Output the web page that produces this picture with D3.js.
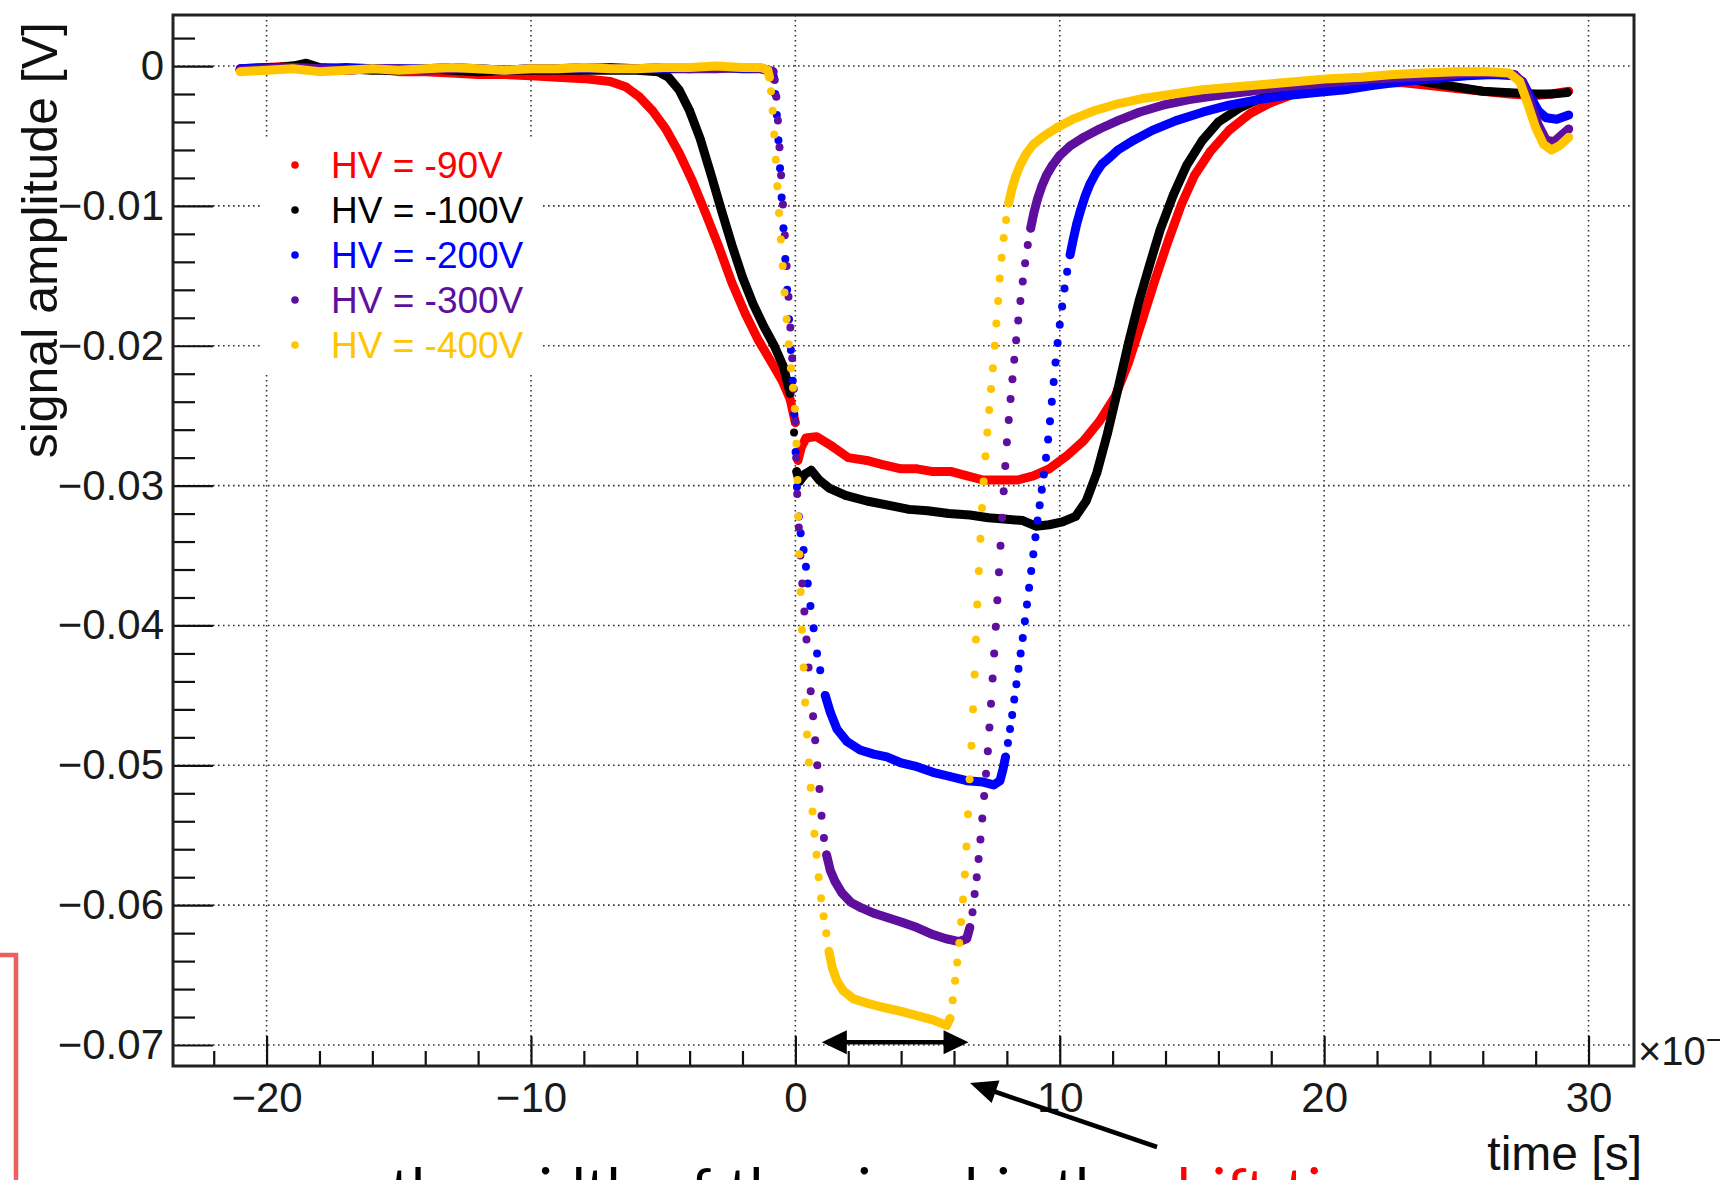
<!DOCTYPE html>
<html>
<head>
<meta charset="utf-8">
<script src="https://cdn.jsdelivr.net/npm/d3@7"></script>
<style>
  body { margin: 0; background: #fff; overflow: hidden; }
  text { font-family: "Liberation Sans", Arial, Helvetica, sans-serif; }
</style>
</head>
<body>
<div id="chart"></div>
<script>
// ---- data (time in units of 1e-9 s, amplitude in V) ----
var seriesNames  = ["HV = -90V", "HV = -100V", "HV = -200V", "HV = -300V", "HV = -400V"];
var seriesColors = ["#ff0000", "#000000", "#0000ff", "#5e0f9e", "#ffc600"];

var hv90 = [[-21.0,-0.0002],[-20.0,-0.0001],[-19.0,0.0000],[-18.0,-0.0002],[-17.0,-0.0003],[-16.0,-0.0002],[-15.0,-0.0004],[-14.0,-0.0004],[-13.0,-0.0005],[-12.0,-0.0006],[-11.0,-0.0006],[-10.0,-0.0007],[-9.0,-0.0008],[-8.0,-0.0009],[-7.0,-0.0011],[-6.4,-0.0015],[-5.9,-0.0022],[-5.4,-0.0032],[-4.9,-0.0045],[-4.4,-0.0062],[-3.9,-0.0082],[-3.4,-0.0105],[-2.9,-0.0129],[-2.4,-0.0155],[-1.9,-0.0177],[-1.4,-0.0196],[-0.9,-0.0212],[-0.5,-0.0225],[-0.2,-0.0238],[0.0,-0.0255],[0.1,-0.0282],[0.22,-0.0273],[0.4,-0.0266],[0.8,-0.0265],[1.4,-0.0272],[2.0,-0.0280],[2.7,-0.0282],[3.3,-0.0285],[4.0,-0.0288],[4.6,-0.0288],[5.2,-0.0290],[5.9,-0.0290],[6.5,-0.0293],[7.1,-0.0296],[7.7,-0.0296],[8.4,-0.0296],[9.0,-0.0293],[9.6,-0.0288],[10.25,-0.0279],[10.9,-0.0268],[11.5,-0.0254],[12.1,-0.0236],[12.6,-0.0212],[13.1,-0.0183],[13.6,-0.0153],[14.1,-0.0125],[14.6,-0.0099],[15.1,-0.0078],[15.7,-0.0061],[16.4,-0.0046],[17.2,-0.0034],[18.0,-0.0026],[19.0,-0.0019],[20.0,-0.0016],[21.0,-0.0014],[22.0,-0.0012],[23.0,-0.0012],[24.0,-0.0014],[25.0,-0.0016],[26.0,-0.0018],[27.0,-0.0020],[28.0,-0.0021],[28.6,-0.0020],[29.25,-0.0018]];

var hv100 = [[-21.0,-0.0003],[-20.0,-0.0002],[-19.0,0.0000],[-18.5,0.0002],[-18.0,-0.0001],[-17.0,-0.0002],[-16.0,-0.0003],[-15.0,-0.0003],[-14.0,-0.0002],[-13.0,-0.0003],[-12.0,-0.0004],[-11.0,-0.0003],[-10.0,-0.0003],[-9.0,-0.0003],[-8.0,-0.0003],[-7.0,-0.0003],[-6.0,-0.0003],[-5.2,-0.0004],[-4.8,-0.0008],[-4.4,-0.0017],[-4.0,-0.0032],[-3.6,-0.0052],[-3.2,-0.0077],[-2.8,-0.0103],[-2.4,-0.0128],[-2.0,-0.0151],[-1.6,-0.0170],[-1.2,-0.0186],[-0.8,-0.0200],[-0.45,-0.0215],[-0.2,-0.0234],[-0.05,-0.0262],[0.05,-0.0290],[0.15,-0.0297],[0.35,-0.0292],[0.6,-0.0289],[0.9,-0.0296],[1.3,-0.0302],[1.9,-0.0307],[2.7,-0.0311],[3.5,-0.0314],[4.3,-0.0317],[5.0,-0.0318],[5.8,-0.0320],[6.6,-0.0321],[7.3,-0.0323],[8.0,-0.0324],[8.6,-0.0325],[9.1,-0.0329],[9.6,-0.0328],[10.1,-0.0326],[10.6,-0.0322],[11.0,-0.0311],[11.4,-0.0291],[11.8,-0.0263],[12.2,-0.0231],[12.6,-0.0198],[13.0,-0.0168],[13.4,-0.0142],[13.8,-0.0117],[14.3,-0.0092],[14.8,-0.0071],[15.4,-0.0053],[16.0,-0.0040],[16.8,-0.0030],[17.6,-0.0023],[18.6,-0.0018],[19.6,-0.0015],[20.6,-0.0013],[21.6,-0.0010],[22.4,-0.0008],[23.2,-0.0009],[24.0,-0.0012],[25.0,-0.0015],[26.0,-0.0018],[27.0,-0.0019],[28.0,-0.0020],[28.6,-0.0020],[29.2,-0.0019]];

var hv200 = [[-21.0,-0.0002],[-20.0,-0.0001],[-19.0,-0.0001],[-18.0,-0.0002],[-17.0,-0.0001],[-16.0,-0.0002],[-15.0,-0.0002],[-14.0,-0.0002],[-13.0,-0.0001],[-12.0,-0.0002],[-11.0,-0.0003],[-10.0,-0.0002],[-9.0,-0.0002],[-8.0,-0.0002],[-7.0,-0.0001],[-6.0,-0.0002],[-5.0,-0.0002],[-4.0,-0.0002],[-3.0,-0.0001],[-2.0,-0.0002],[-1.3,-0.0002],[-0.88,-0.0004],[-0.82,-0.0009],[-0.76,-0.0020],[-0.70,-0.0035],[-0.64,-0.0053],[-0.58,-0.0073],[-0.52,-0.0094],[-0.45,-0.0116],[-0.38,-0.0138],[-0.31,-0.0160],[-0.24,-0.0181],[-0.17,-0.0203],[-0.10,-0.0225],[-0.04,-0.0249],[0.01,-0.0276],[0.06,-0.0301],[0.13,-0.0322],[0.20,-0.0334],[0.31,-0.0346],[0.40,-0.0358],[0.47,-0.0370],[0.57,-0.0386],[0.69,-0.0402],[0.82,-0.0420],[0.94,-0.0432],[1.13,-0.0450],[1.32,-0.0462],[1.57,-0.0474],[1.95,-0.0483],[2.45,-0.0489],[2.96,-0.0492],[3.46,-0.0494],[3.96,-0.0498],[4.6,-0.0501],[5.2,-0.0505],[5.85,-0.0508],[6.48,-0.0511],[7.1,-0.0512],[7.5,-0.0514],[7.74,-0.0511],[7.85,-0.0503],[7.95,-0.0494],[8.04,-0.0484],[8.12,-0.0474],[8.20,-0.0464],[8.28,-0.0453],[8.36,-0.0442],[8.44,-0.0431],[8.52,-0.0420],[8.60,-0.0409],[8.68,-0.0397],[8.76,-0.0385],[8.84,-0.0373],[8.92,-0.0361],[9.00,-0.0349],[9.08,-0.0337],[9.16,-0.0325],[9.24,-0.0314],[9.32,-0.0303],[9.40,-0.0292],[9.48,-0.0280],[9.56,-0.0267],[9.63,-0.0254],[9.70,-0.0240],[9.77,-0.0226],[9.84,-0.0212],[9.92,-0.0198],[10.00,-0.0185],[10.09,-0.0172],[10.18,-0.0159],[10.28,-0.0147],[10.39,-0.0135],[10.51,-0.0124],[10.64,-0.0113],[10.79,-0.0103],[10.96,-0.0093],[11.15,-0.0084],[11.38,-0.0076],[11.6,-0.0070],[11.85,-0.0066],[12.2,-0.0060],[12.8,-0.0053],[13.5,-0.0046],[14.4,-0.0039],[15.4,-0.0033],[16.4,-0.0028],[17.5,-0.0024],[18.6,-0.0021],[19.7,-0.0019],[20.8,-0.0017],[21.8,-0.0014],[23.0,-0.0011],[24.2,-0.0009],[25.4,-0.0007],[26.4,-0.0006],[27.2,-0.0007],[27.5,-0.0011],[27.8,-0.0022],[28.1,-0.0032],[28.4,-0.0037],[28.8,-0.0038],[29.25,-0.0035]];

var hv300 = [[-21.0,-0.0003],[-20.0,-0.0002],[-19.0,-0.0001],[-18.0,-0.0002],[-17.0,-0.0003],[-16.0,-0.0002],[-15.0,-0.0002],[-14.0,-0.0003],[-13.0,-0.0002],[-12.0,-0.0002],[-11.0,-0.0003],[-10.0,-0.0002],[-9.0,-0.0002],[-8.0,-0.0001],[-7.0,-0.0002],[-6.0,-0.0002],[-5.0,-0.0001],[-4.0,-0.0002],[-3.0,-0.0002],[-2.0,-0.0001],[-1.2,-0.0002],[-0.84,-0.0004],[-0.78,-0.0010],[-0.72,-0.0022],[-0.66,-0.0039],[-0.60,-0.0058],[-0.54,-0.0078],[-0.47,-0.0099],[-0.40,-0.0121],[-0.33,-0.0143],[-0.26,-0.0165],[-0.19,-0.0187],[-0.12,-0.0209],[-0.06,-0.0231],[-0.01,-0.0254],[0.03,-0.0280],[0.07,-0.0306],[0.13,-0.0330],[0.19,-0.0350],[0.26,-0.0370],[0.34,-0.0390],[0.42,-0.0410],[0.50,-0.0430],[0.58,-0.0447],[0.67,-0.0465],[0.75,-0.0482],[0.83,-0.0500],[0.91,-0.0517],[0.99,-0.0536],[1.08,-0.0552],[1.18,-0.0564],[1.32,-0.0575],[1.5,-0.0583],[1.75,-0.0591],[2.1,-0.0598],[2.5,-0.0602],[3.0,-0.0606],[3.5,-0.0609],[4.0,-0.0612],[4.6,-0.0616],[5.2,-0.0621],[5.7,-0.0624],[6.2,-0.0626],[6.48,-0.0624],[6.60,-0.0616],[6.70,-0.0605],[6.78,-0.0592],[6.86,-0.0580],[6.93,-0.0567],[7.00,-0.0553],[7.07,-0.0538],[7.14,-0.0522],[7.21,-0.0506],[7.28,-0.0490],[7.34,-0.0473],[7.40,-0.0456],[7.46,-0.0438],[7.52,-0.0420],[7.58,-0.0401],[7.64,-0.0382],[7.70,-0.0362],[7.76,-0.0343],[7.82,-0.0323],[7.88,-0.0304],[7.94,-0.0286],[8.00,-0.0269],[8.07,-0.0253],[8.14,-0.0238],[8.21,-0.0224],[8.28,-0.0210],[8.35,-0.0196],[8.43,-0.0182],[8.51,-0.0168],[8.60,-0.0154],[8.69,-0.0141],[8.79,-0.0128],[8.90,-0.0116],[9.02,-0.0105],[9.16,-0.0095],[9.32,-0.0086],[9.50,-0.0078],[9.72,-0.0071],[10.0,-0.0064],[10.4,-0.0057],[10.9,-0.0051],[11.5,-0.0045],[12.2,-0.0039],[13.0,-0.0033],[13.9,-0.0028],[14.9,-0.0024],[16.0,-0.0021],[17.2,-0.0018],[18.4,-0.0015],[19.6,-0.0013],[20.8,-0.0011],[22.0,-0.0009],[23.2,-0.0008],[24.4,-0.0007],[25.4,-0.0005],[26.4,-0.0005],[27.2,-0.0006],[27.5,-0.0012],[27.8,-0.0026],[28.1,-0.0042],[28.4,-0.0053],[28.7,-0.0054],[29.0,-0.0049],[29.25,-0.0045]];

var hv400 = [[-21.0,-0.0004],[-20.0,-0.0003],[-19.0,-0.0002],[-18.0,-0.0004],[-17.0,-0.0003],[-16.0,-0.0002],[-15.0,-0.0003],[-14.0,-0.0002],[-13.0,-0.0001],[-12.0,-0.0002],[-11.0,-0.0003],[-10.0,-0.0002],[-9.0,-0.0002],[-8.0,-0.0001],[-7.0,-0.0002],[-6.0,-0.0002],[-5.0,-0.0001],[-4.0,-0.0001],[-3.0,0.0000],[-2.0,-0.0001],[-1.3,-0.0001],[-1.04,-0.0003],[-0.98,-0.0008],[-0.92,-0.0018],[-0.86,-0.0032],[-0.80,-0.0049],[-0.74,-0.0067],[-0.68,-0.0086],[-0.62,-0.0105],[-0.55,-0.0124],[-0.48,-0.0143],[-0.41,-0.0162],[-0.33,-0.0181],[-0.25,-0.0199],[-0.17,-0.0216],[-0.09,-0.0230],[-0.02,-0.0245],[0.04,-0.0270],[0.08,-0.0296],[0.11,-0.0322],[0.15,-0.0349],[0.20,-0.0376],[0.25,-0.0403],[0.31,-0.0430],[0.37,-0.0455],[0.44,-0.0478],[0.51,-0.0498],[0.58,-0.0516],[0.65,-0.0533],[0.72,-0.0549],[0.80,-0.0564],[0.88,-0.0580],[0.97,-0.0595],[1.07,-0.0608],[1.17,-0.0620],[1.27,-0.0633],[1.40,-0.0645],[1.57,-0.0654],[1.8,-0.0661],[2.2,-0.0667],[2.7,-0.0670],[3.3,-0.0673],[4.0,-0.0676],[4.6,-0.0679],[5.2,-0.0682],[5.72,-0.0686],[5.85,-0.0681],[5.95,-0.0668],[6.04,-0.0654],[6.12,-0.0641],[6.20,-0.0627],[6.27,-0.0612],[6.34,-0.0596],[6.41,-0.0578],[6.47,-0.0558],[6.53,-0.0535],[6.59,-0.0510],[6.66,-0.0486],[6.72,-0.0460],[6.78,-0.0435],[6.83,-0.0410],[6.88,-0.0385],[6.94,-0.0361],[7.00,-0.0338],[7.06,-0.0316],[7.12,-0.0297],[7.19,-0.0279],[7.26,-0.0262],[7.33,-0.0246],[7.40,-0.0231],[7.47,-0.0216],[7.54,-0.0200],[7.60,-0.0184],[7.67,-0.0168],[7.73,-0.0152],[7.80,-0.0137],[7.88,-0.0123],[7.97,-0.0110],[8.07,-0.0098],[8.19,-0.0088],[8.33,-0.0079],[8.50,-0.0071],[8.72,-0.0063],[9.0,-0.0056],[9.4,-0.0050],[9.9,-0.0044],[10.5,-0.0038],[11.3,-0.0032],[12.2,-0.0027],[13.2,-0.0023],[14.3,-0.0020],[15.4,-0.0017],[16.6,-0.0015],[17.8,-0.0013],[19.0,-0.0011],[20.2,-0.0009],[21.4,-0.0008],[22.6,-0.0006],[23.8,-0.0005],[25.0,-0.0004],[26.2,-0.0004],[27.0,-0.0005],[27.4,-0.0011],[27.7,-0.0027],[28.0,-0.0044],[28.3,-0.0056],[28.6,-0.0060],[28.9,-0.0057],[29.25,-0.0051]];

var allSeries = [hv90, hv100, hv200, hv300, hv400];

var xTicks = [-20, -10, 0, 10, 20, 30];
var yTicks = [0, -0.01, -0.02, -0.03, -0.04, -0.05, -0.06, -0.07];

// ---- layout ----
var width = 1720, height = 1180;
var frame = {left: 173, right: 1634, top: 15, bottom: 1066};
var sampleStep = 0.063;   // scope sampling interval, in the x units
var dotR = 4.0;           // marker radius

var svg = d3.select("#chart").append("svg")
    .attr("width", width)
    .attr("height", height);

var x = d3.scaleLinear().domain([-23.54, 31.72]).range([frame.left, frame.right]);
var y = d3.scaleLinear().domain([-0.0715, 0.00365]).range([frame.bottom, frame.top]);

// grid (dotted, ROOT style)
svg.append("g").selectAll("line")
    .data(xTicks).enter().append("line")
    .attr("x1", function(d){ return x(d); }).attr("x2", function(d){ return x(d); })
    .attr("y1", frame.top).attr("y2", frame.bottom)
    .style("stroke", "#333").style("stroke-width", 1.6).style("stroke-dasharray", "1.6,3.4");
svg.append("g").selectAll("line")
    .data(yTicks).enter().append("line")
    .attr("x1", frame.left).attr("x2", frame.right)
    .attr("y1", function(d){ return y(d); }).attr("y2", function(d){ return y(d); })
    .style("stroke", "#333").style("stroke-width", 1.6).style("stroke-dasharray", "1.6,3.4");

// axes: ticks point into the frame
var yMinor = d3.range(-0.07, 0.0021, 0.002).filter(function(v){ return Math.abs(Math.round(v*100) - v*100) > 1e-6; });
var xMinor = d3.range(-22, 31, 2).filter(function(v){ return v % 10 !== 0; });

svg.append("g").attr("transform", "translate(" + frame.left + ",0)")
    .call(d3.axisLeft(y).tickValues(yTicks).tickSize(-40).tickPadding(9).tickFormat(d3.format(".2~f")));
svg.append("g").attr("transform", "translate(" + frame.left + ",0)")
    .call(d3.axisLeft(y).tickValues(yMinor).tickSize(-22).tickFormat(""));
svg.append("g").attr("transform", "translate(0," + frame.bottom + ")")
    .call(d3.axisBottom(x).tickValues(xTicks).tickSize(-30).tickPadding(16).tickFormat(d3.format("d")));
svg.append("g").attr("transform", "translate(0," + frame.bottom + ")")
    .call(d3.axisBottom(x).tickValues(xMinor).tickSize(-15).tickFormat(""));

svg.selectAll(".domain").remove();
svg.selectAll(".tick line").style("stroke", "#111").style("stroke-width", 2.2);
svg.selectAll(".tick text").style("font-size", "42px").style("fill", "#1a1a1a")
    .style("font-family", "'Liberation Sans', Arial, sans-serif");

// frame
svg.append("rect")
    .attr("x", frame.left).attr("y", frame.top)
    .attr("width", frame.right - frame.left).attr("height", frame.bottom - frame.top)
    .style("fill", "none").style("stroke", "#222").style("stroke-width", 3);

// legend box: white, no border, hides the grid behind it
var legendX = 295, legendY = 165, legendStep = 45;
svg.append("rect")
    .attr("x", 262).attr("y", 140).attr("width", 280).attr("height", 232)
    .style("fill", "#fff");

// series: dots join into a thick trace where neighbouring samples overlap
function runs(pts) {
  var out = [], cur = [pts[0]];
  for (var i = 1; i < pts.length; i++) {
    var a = pts[i-1], b = pts[i];
    var n = Math.max(1, (b[0] - a[0]) / sampleStep);
    var dx = (x(b[0]) - x(a[0])) / n, dy = (y(b[1]) - y(a[1])) / n;
    if (Math.sqrt(dx*dx + dy*dy) < 8.5) cur.push(b);
    else { out.push(cur); cur = [b]; }
  }
  out.push(cur);
  return out;
}

var line = d3.line().x(function(d){ return x(d[0]); }).y(function(d){ return y(d[1]); });

allSeries.forEach(function(pts, k) {
  var g = svg.append("g");
  g.selectAll("path")
    .data(runs(pts).filter(function(r){ return r.length > 1; }))
    .enter().append("path")
    .attr("d", line)
    .style("fill", "none")
    .style("stroke", seriesColors[k])
    .style("stroke-width", 9)
    .style("stroke-linejoin", "round")
    .style("stroke-linecap", "round");
  g.selectAll("circle")
    .data(pts).enter().append("circle")
    .attr("cx", function(d){ return x(d[0]); })
    .attr("cy", function(d){ return y(d[1]); })
    .attr("r", dotR)
    .style("fill", seriesColors[k]);
});

// legend entries
var leg = svg.append("g").selectAll("g")
    .data(seriesNames).enter().append("g")
    .attr("transform", function(d, i){ return "translate(" + legendX + "," + (legendY + i*legendStep) + ")"; });
leg.append("circle").attr("r", 3.8).style("fill", function(d, i){ return seriesColors[i]; });
leg.append("text")
    .attr("x", 36).attr("y", 13)
    .text(function(d){ return d; })
    .style("font-size", "37px")
    .style("fill", function(d, i){ return seriesColors[i]; });

// axis titles
svg.append("text")
    .attr("transform", "translate(57,22) rotate(-90)")
    .attr("text-anchor", "end")
    .text("signal amplitude [V]")
    .style("font-size", "50px").style("fill", "#111");
svg.append("text")
    .attr("x", 1642).attr("y", 1170)
    .attr("text-anchor", "end")
    .text("time [s]")
    .style("font-size", "48px").style("fill", "#111");

var mult = svg.append("text").attr("x", 1638).attr("y", 1065)
    .style("font-size", "40px").style("fill", "#1a1a1a");
mult.append("tspan").text("\u00d710");
mult.append("tspan").attr("dy", -16).style("font-size", "28px").text("\u22129");

// annotations on the slide
function arrowHead(tipX, tipY, fromX, fromY, len, half) {
  var ang = Math.atan2(tipY - fromY, tipX - fromX);
  var bx = tipX - len*Math.cos(ang), by = tipY - len*Math.sin(ang);
  var px = -Math.sin(ang)*half, py = Math.cos(ang)*half;
  return [[tipX, tipY], [bx + px, by + py], [bx - px, by - py]];
}
var ann = svg.append("g");
var ay = y(-0.0698), ax1 = x(1.0), ax2 = x(6.55);
ann.append("line").attr("x1", ax1 + 20).attr("x2", ax2 - 20).attr("y1", ay).attr("y2", ay)
    .style("stroke", "#000").style("stroke-width", 4.5);
ann.append("polygon").attr("points", arrowHead(ax1, ay, ax2, ay, 25, 12).join(" ")).style("fill", "#000");
ann.append("polygon").attr("points", arrowHead(ax2, ay, ax1, ay, 25, 12).join(" ")).style("fill", "#000");

ann.append("line").attr("x1", 1157).attr("y1", 1147).attr("x2", 990).attr("y2", 1090)
    .style("stroke", "#000").style("stroke-width", 4.5);
ann.append("polygon").attr("points", arrowHead(970, 1083, 1157, 1147, 27, 12).join(" ")).style("fill", "#000");

// red box at the slide's left edge
svg.append("path")
    .attr("d", "M0,955 L16,955 L16,1180")
    .style("fill", "none").style("stroke", "#ec5f5f").style("stroke-width", 4.5);

// caption, cut by the bottom of the slide
var cap = svg.append("text").attr("x", 390).attr("y", 1210)
    .style("font-family", "Lato, 'Open Sans', sans-serif").style("font-size", "59px")
    .style("word-spacing", "3px").style("fill", "#000");
cap.append("tspan").text("the width of the signal is the ");
cap.append("tspan").style("fill", "#ff0000").text("drift time");
</script>
</body>
</html>
